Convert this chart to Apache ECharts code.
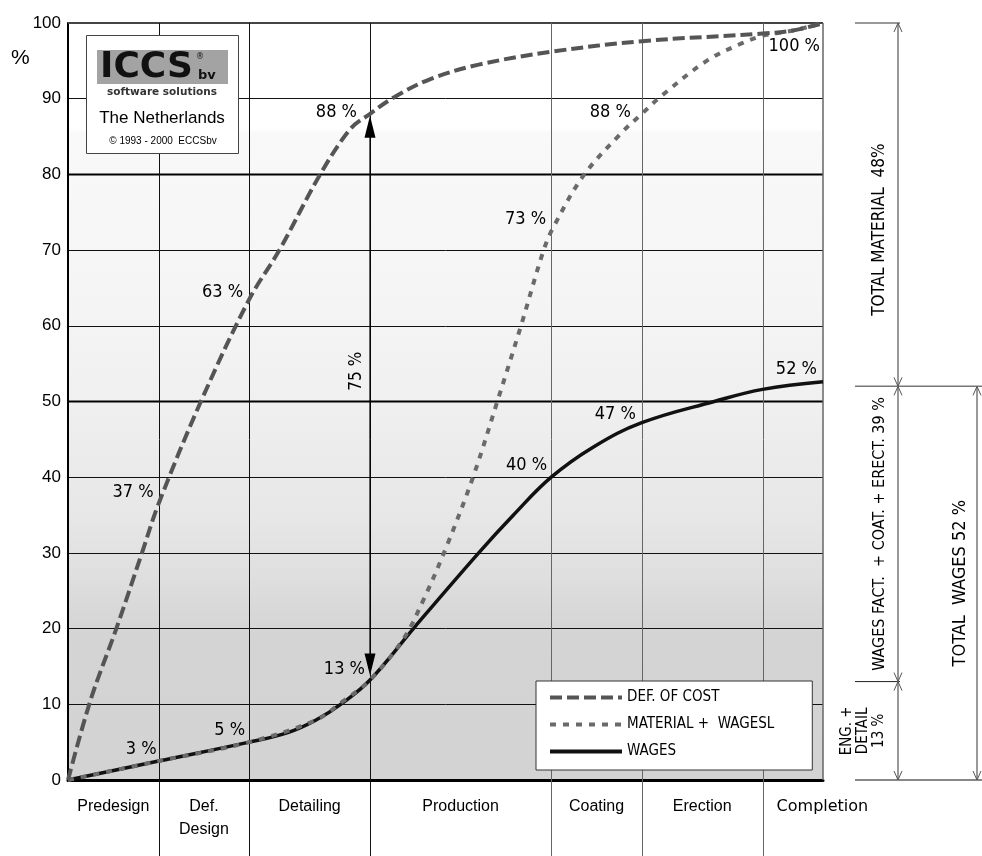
<!DOCTYPE html>
<html><head><meta charset="utf-8">
<script src="https://cdn.jsdelivr.net/npm/echarts@6/dist/echarts.min.js"></script>
<style>html,body{margin:0;padding:0;background:#fff}#c{width:982px;height:856px}</style>
</head><body><div id="c"></div>
<script>
// ---- data ----
const stages = ['Predesign', 'Def.\nDesign', 'Detailing', 'Production', 'Coating', 'Erection', 'Completion'];
const stageBounds = [0, 3, 6, 10, 16, 19, 23, 25];

const defCostX = [0, 0.75, 1.6, 2.45, 3, 4.4, 6, 7, 8.35, 9.35, 10, 10.8, 12, 13.6, 16, 19, 23, 24, 25];
const defCostY = [0, 10.6, 20, 30, 36.5, 50, 63.5, 70, 80, 86, 88, 90.2, 92.6, 94.5, 96.2, 97.6, 98.6, 99, 100];

const matWagesX = [0, 3, 6, 8.2, 9.1, 10, 11.1, 11.77, 12.54, 13.42, 14.2, 15, 15.75, 16.07, 17.06, 18.28, 19, 19.66, 21.15, 22.36, 23, 24, 25];
const matWagesY = [0, 2.5, 5, 7.9, 10.4, 13.2, 18.6, 23.8, 30.9, 40.1, 49.8, 60, 70, 73, 79.8, 85.3, 88, 90.4, 95, 97.4, 98.3, 99, 100];

const wagesX = [0, 3, 6, 7.3, 8.2, 9.1, 10, 11.5, 13.6, 14.75, 16, 17.4, 19, 21.4, 23, 25];
const wagesY = [0, 2.5, 5, 6.3, 7.9, 10.2, 13.2, 20.3, 30, 35, 40, 44, 47.2, 50, 51.6, 52.6];

const seriesNames = ['DEF. OF COST', 'MATERIAL +  WAGESL', 'WAGES'];

// point labels: [x, y, text]
const pointLabels = [
  [3, 37, '37 %'], [6, 63, '63 %'], [10, 88, '88 %'],
  [3, 3, '3 %'], [6, 5, '5 %'], [10, 13, '13 %'],
  [16, 40, '40 %'], [19, 47, '47 %'], [25, 52, '52 %'],
  [16, 73, '73 %'], [19, 88, '88 %'], [25, 100, '100 %']
];
const spanArrow = [10, 88, 13, '75 %'];
const splitLevels = [100, 52, 13, 0];
const splitTexts = ['TOTAL MATERIAL  48%', 'WAGES FACT.  + COAT. + ERECT. 39 %', 'ENG. +\nDETAIL\n13 %'];
const wagesTotal = [52, 0, 'TOTAL  WAGES 52 %'];

// ---- layout / style (not data) ----
const labelOffsets = [
  [-5, -8], [-6, -11], [-13, -2],
  [-2, -8], [-4, -12], [-5, -12],
  [-4, -12], [-6, -10], [-6, -17],
  [-5, -8], [-11, -2], [-3, 23]
];
const NARROW = "'Liberation Sans Narrow','Arial Narrow','DejaVu Sans Condensed',sans-serif";
const SANS = "'Liberation Sans',Arial,sans-serif";

const zip = (xs, ys) => xs.map((x, i) => [x, ys[i]]);

const chart = echarts.init(document.getElementById('c'), null, {renderer: 'canvas'});
chart.setOption({
  animation: false,
  backgroundColor: '#fff',
  grid: {
    left: 68, top: 23, right: 159, bottom: 76,
    containLabel: false, outerBoundsMode: 'none',
    show: true, borderWidth: 0,
    backgroundColor: {
      type: 'linear', x: 0, y: 0, x2: 0, y2: 1,
      colorStops: [
        {offset: 0, color: '#ffffff'}, {offset: 0.14, color: '#ffffff'},
        {offset: 0.145, color: '#f9f9f9'}, {offset: 0.35, color: '#f5f5f5'},
        {offset: 0.5, color: '#f0f0f0'}, {offset: 0.56, color: '#ececec'},
        {offset: 0.65, color: '#e7e7e7'}, {offset: 0.73, color: '#dfdfdf'},
        {offset: 0.77, color: '#d9d9d9'}, {offset: 0.81, color: '#d4d4d4'},
        {offset: 1, color: '#d3d3d3'}
      ]
    }
  },
  xAxis: {
    type: 'value', min: 0, max: 25,
    axisLine: {show: true, lineStyle: {color: '#000', width: 3}},
    axisTick: {show: false}, axisLabel: {show: false}, splitLine: {show: false}
  },
  yAxis: {
    type: 'value', min: 0, max: 100, interval: 10,
    axisLine: {show: true, lineStyle: {color: '#000', width: 2}},
    axisTick: {show: false},
    axisLabel: {color: '#000', fontSize: 17, fontFamily: SANS, margin: 7},
    splitLine: {show: true, lineStyle: {color: '#111', width: 1}}
  },
  legend: {
    data: seriesNames,
    orient: 'vertical', left: 536, top: 681,
    backgroundColor: '#fff', borderColor: '#333', borderWidth: 1,
    padding: [9, 38, 11, 12],
    itemWidth: 72, itemHeight: 14, itemGap: 12,
    itemStyle: {opacity: 0, borderWidth: 0},
    lineStyle: {width: 4},
    textStyle: {color: '#000', fontSize: 15, fontFamily: NARROW}
  },
  series: [
    {
      name: seriesNames[2], type: 'line', data: zip(wagesX, wagesY),
      smooth: 0.4, symbol: 'none', showSymbol: false, z: 3,
      lineStyle: {color: '#111', width: 3.5}, itemStyle: {color: '#111'}
    },
    {
      name: seriesNames[1], type: 'line', data: zip(matWagesX, matWagesY),
      smooth: 0.35, symbol: 'none', showSymbol: false, z: 4,
      lineStyle: {color: '#6a6a6a', width: 4, type: [6, 7]}, itemStyle: {color: '#6a6a6a'}
    },
    {
      name: seriesNames[0], type: 'line', data: zip(defCostX, defCostY),
      smooth: 0.35, symbol: 'none', showSymbol: false, z: 5,
      lineStyle: {color: '#555', width: 4, type: [12, 5]}, itemStyle: {color: '#555'}
    }
  ]
});

function buildGraphics() {
  const p = (x, y) => chart.convertToPixel({gridIndex: 0}, [x, y]);
  const g = [];
  const line = (x1, y1, x2, y2, color, width, z) => g.push({
    type: 'line', z: z == null ? 1 : z, silent: true,
    shape: {x1, y1, x2, y2}, style: {stroke: color, lineWidth: width}
  });

  const [x0, yTop] = p(0, 100);
  const [xEnd, yBot] = p(25, 0);

  [50, 80].forEach(v => { const y = p(0, v)[1]; line(x0, y, xEnd, y, '#000', 2); });
  line(x0, yTop, xEnd, yTop, '#444', 2);
  line(xEnd, yTop, xEnd, yBot, '#666', 1.5);

  for (let i = 1; i < stageBounds.length - 1; i++) {
    const x = Math.round(p(stageBounds[i], 0)[0]) + 0.5;
    line(x, yTop, x, 856, i <= 3 ? '#111' : '#666', 1);
  }
  stages.forEach((s, i) => {
    const isLast = i === stages.length - 1;
    const cx = isLast ? p(stageBounds[i], 0)[0] + 14
      : (p(stageBounds[i], 0)[0] + p(stageBounds[i + 1], 0)[0]) / 2;
    g.push({
      type: 'text', z: 10, silent: true, x: cx, y: yBot + 15,
      style: {text: s, font: (isLast ? "16px 'DejaVu Sans',sans-serif" : '16px ' + SANS),
        fill: '#000', align: isLast ? 'left' : 'center', verticalAlign: 'top', lineHeight: 23}
    });
  });

  pointLabels.forEach((lb, i) => {
    const [px, py] = p(lb[0], lb[1]);
    const o = labelOffsets[i];
    g.push({type: 'text', z: 10, silent: true, x: px + o[0], y: py + o[1],
      style: {text: lb[2], font: '18px ' + NARROW, fill: '#000', align: 'right', verticalAlign: 'middle'}});
  });

  {
    const [ax, ay1] = p(spanArrow[0], spanArrow[1]);
    const ay2 = p(spanArrow[0], spanArrow[2])[1];
    const t1 = ay1 + 2, t2 = ay2 - 6;
    line(ax, t1 + 18, ax, t2 - 18, '#000', 1.2, 6);
    g.push({type: 'polygon', z: 6, silent: true, shape: {points: [[ax, t1], [ax - 5.5, t1 + 22], [ax + 5.5, t1 + 22]]}, style: {fill: '#000'}});
    g.push({type: 'polygon', z: 6, silent: true, shape: {points: [[ax, t2], [ax - 5.5, t2 - 22], [ax + 5.5, t2 - 22]]}, style: {fill: '#000'}});
    const my = p(0, 54)[1];
    g.push({type: 'text', z: 10, silent: true, x: ax - 13, y: my, rotation: Math.PI / 2,
      style: {text: spanArrow[3], font: '17px ' + NARROW, fill: '#000', align: 'center', verticalAlign: 'middle'}});
  }

  const dimX = 898, dimX2 = 977, hx1 = 855;
  const ys = splitLevels.map(v => p(25, v)[1]);
  line(hx1, ys[0], 900, ys[0], '#777', 1.5);
  line(hx1, ys[1], 982, ys[1], '#777', 1.5);
  line(hx1, ys[2], 900, ys[2], '#222', 1);
  line(hx1, ys[3], 982, ys[3], '#888', 2);
  line(dimX, ys[0], dimX, ys[3], '#777', 1.5);
  const wy1 = p(25, wagesTotal[0])[1], wy2 = p(25, wagesTotal[1])[1];
  line(dimX2, wy1, dimX2, wy2, '#777', 1.5);
  const vhead = (x, y, dir) => g.push({type: 'polyline', z: 2, silent: true,
    shape: {points: [[x - 4, y + dir * 9], [x, y], [x + 4, y + dir * 9]]}, style: {stroke: '#555', lineWidth: 1, fill: null}});
  for (let i = 0; i < 3; i++) { vhead(dimX, ys[i], 1); vhead(dimX, ys[i + 1], -1); }
  vhead(dimX2, wy1, 1); vhead(dimX2, wy2, -1);

  const rfont = NARROW;
  g.push({type: 'text', z: 10, silent: true, x: 880, y: (ys[0] + ys[1]) / 2 + 25, rotation: Math.PI / 2,
    style: {text: splitTexts[0], font: '17px ' + rfont, fill: '#000', align: 'center', verticalAlign: 'middle'}});
  g.push({type: 'text', z: 10, silent: true, x: 880, y: (ys[1] + ys[2]) / 2, rotation: Math.PI / 2,
    style: {text: splitTexts[1], font: '16px ' + rfont, fill: '#000', align: 'center', verticalAlign: 'middle'}});
  g.push({type: 'text', z: 10, silent: true, x: 863, y: (ys[2] + ys[3]) / 2, rotation: Math.PI / 2,
    style: {text: splitTexts[2], font: '15px ' + rfont, fill: '#000', align: 'center', verticalAlign: 'middle', lineHeight: 16}});
  g.push({type: 'text', z: 10, silent: true, x: 960, y: (wy1 + wy2) / 2, rotation: Math.PI / 2,
    style: {text: wagesTotal[2], font: '18px ' + rfont, fill: '#000', align: 'center', verticalAlign: 'middle'}});

  g.push({type: 'text', z: 10, silent: true, x: 11, y: 58,
    style: {text: '%', font: '21px ' + SANS, fill: '#000', align: 'left', verticalAlign: 'middle'}});

  g.push({type: 'rect', z: 8, silent: true, shape: {x: 86.5, y: 35.5, width: 152, height: 118},
    style: {fill: '#fff', stroke: '#444', lineWidth: 1}});
  g.push({type: 'rect', z: 9, silent: true, shape: {x: 97, y: 50, width: 131, height: 34},
    style: {fill: '#a3a3a3'}});
  g.push({type: 'text', z: 10, silent: true, x: 100, y: 68,
    style: {text: 'ICCS', font: "bold 36px 'DejaVu Sans',sans-serif", fill: '#111', align: 'left', verticalAlign: 'middle'}});
  g.push({type: 'text', z: 10, silent: true, x: 198, y: 76,
    style: {text: 'bv', font: "bold 13px 'DejaVu Sans',sans-serif", fill: '#111', align: 'left', verticalAlign: 'middle'}});
  g.push({type: 'text', z: 10, silent: true, x: 200, y: 57,
    style: {text: '®', font: "8px 'DejaVu Sans',sans-serif", fill: '#111', align: 'center', verticalAlign: 'middle'}});
  g.push({type: 'text', z: 10, silent: true, x: 162, y: 92,
    style: {text: 'software solutions', font: "bold 10.5px 'DejaVu Sans',sans-serif", fill: '#333', align: 'center', verticalAlign: 'middle'}});
  g.push({type: 'text', z: 10, silent: true, x: 162, y: 118,
    style: {text: 'The Netherlands', font: '17px ' + SANS, fill: '#000', align: 'center', verticalAlign: 'middle'}});
  g.push({type: 'text', z: 10, silent: true, x: 163, y: 141,
    style: {text: '© 1993 - 2000  ECCSbv', font: '10px ' + SANS, fill: '#000', align: 'center', verticalAlign: 'middle'}});

  return g;
}

chart.setOption({graphic: {elements: buildGraphics()}});
</script>
</body></html>
